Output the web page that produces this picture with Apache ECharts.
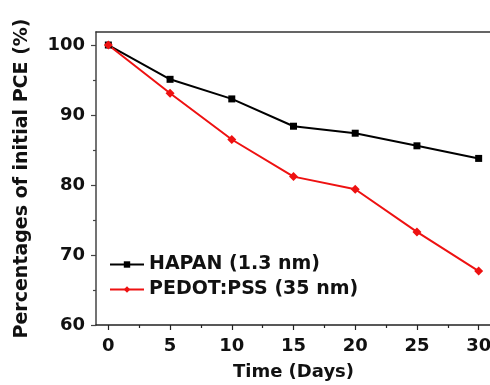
<!DOCTYPE html>
<html>
<head>
<meta charset="utf-8">
<script src="https://cdn.jsdelivr.net/npm/echarts@6/dist/echarts.min.js"></script>
<style>
  html, body { margin: 0; padding: 0; background: #fff; }
  #chart { width: 490px; height: 385px; }
</style>
</head>
<body>
<div id="chart"></div>
<script>
// days and retained PCE (%)
const days = [0, 5, 10, 15, 20, 25, 30];
const hapan = [100, 95.1, 92.3, 88.4, 87.4, 85.6, 83.8];
const pedot = [100, 93.1, 86.5, 81.2, 79.4, 73.3, 67.7];
const xTicks = [0, 5, 10, 15, 20, 25, 30];
const xMinor = [2.5, 7.5, 12.5, 17.5, 22.5, 27.5];
const yTicks = [60, 70, 80, 90, 100];
const yMinor = [65, 75, 85, 95];

const font = 'DejaVu Sans, sans-serif';

const chart = echarts.init(document.getElementById('chart'));

function pairs(ys) {
  return days.map((d, i) => [d, ys[i]]);
}

const option = {
  animation: false,
  grid: {
    left: 96, right: -1, top: 32, bottom: 60,
    outerBoundsMode: 'none', containLabel: false
  },
  legend: {
    orient: 'vertical',
    left: 104, top: 250,
    itemWidth: 34, itemHeight: 8,
    itemGap: 6,
    textStyle: { fontFamily: font, fontWeight: 'bold', fontSize: 19, color: '#111' },
    data: ['HAPAN (1.3 nm)', 'PEDOT:PSS (35 nm)']
  },
  xAxis: [
    {
      type: 'value', min: -1, max: 31,
      name: 'Time (Days)', nameLocation: 'middle', nameGap: 38,
      nameTextStyle: { fontFamily: font, fontWeight: 'bold', fontSize: 18, color: '#111' },
      axisLine: { onZero: false, lineStyle: { color: '#222', width: 1.5 } },
      axisTick: { length: 5, customValues: xTicks, lineStyle: { color: '#222', width: 1.2 } },
      axisLabel: { customValues: xTicks, margin: 12, fontFamily: font, fontWeight: 'bold', fontSize: 18, color: '#111' },
      splitLine: { show: false }
    },
    {
      type: 'value', min: -1, max: 31, position: 'bottom',
      axisLine: { show: false, onZero: false },
      axisTick: { length: 3, customValues: xMinor, lineStyle: { color: '#222', width: 1.2 } },
      axisLabel: { show: false },
      splitLine: { show: false }
    },
    {
      // top frame line only
      type: 'value', min: -1, max: 31, position: 'top',
      axisLine: { show: true, onZero: false, lineStyle: { color: '#333', width: 1.5 } },
      axisTick: { show: false },
      axisLabel: { show: false },
      splitLine: { show: false }
    }
  ],
  yAxis: [
    {
      type: 'value', min: 60, max: 101.86,
      name: 'Percentages of initial PCE (%)', nameLocation: 'middle', nameGap: 64,
      nameTextStyle: { fontFamily: font, fontWeight: 'bold', fontSize: 19, color: '#111' },
      axisLine: { show: true, onZero: false, lineStyle: { color: '#444', width: 1.5 } },
      axisTick: { show: true, length: 5, customValues: yTicks, lineStyle: { color: '#444', width: 1.2 } },
      axisLabel: { customValues: yTicks, margin: 11, fontFamily: font, fontWeight: 'bold', fontSize: 18, color: '#111' },
      splitLine: { show: false }
    },
    {
      type: 'value', min: 60, max: 101.86, position: 'left',
      axisLine: { show: false, onZero: false },
      axisTick: { show: true, length: 3, customValues: yMinor, lineStyle: { color: '#444', width: 1.2 } },
      axisLabel: { show: false },
      splitLine: { show: false }
    }
  ],
  series: [
    {
      name: 'HAPAN (1.3 nm)',
      type: 'line',
      data: pairs(hapan),
      symbol: 'rect', symbolSize: 7,
      itemStyle: { color: '#000' },
      lineStyle: { color: '#000', width: 2 }
    },
    {
      name: 'PEDOT:PSS (35 nm)',
      type: 'line',
      data: pairs(pedot),
      symbol: 'diamond', symbolSize: 9,
      itemStyle: { color: '#ee1111' },
      lineStyle: { color: '#ee1111', width: 2 }
    }
  ]
};

chart.setOption(option);
</script>
</body>
</html>
